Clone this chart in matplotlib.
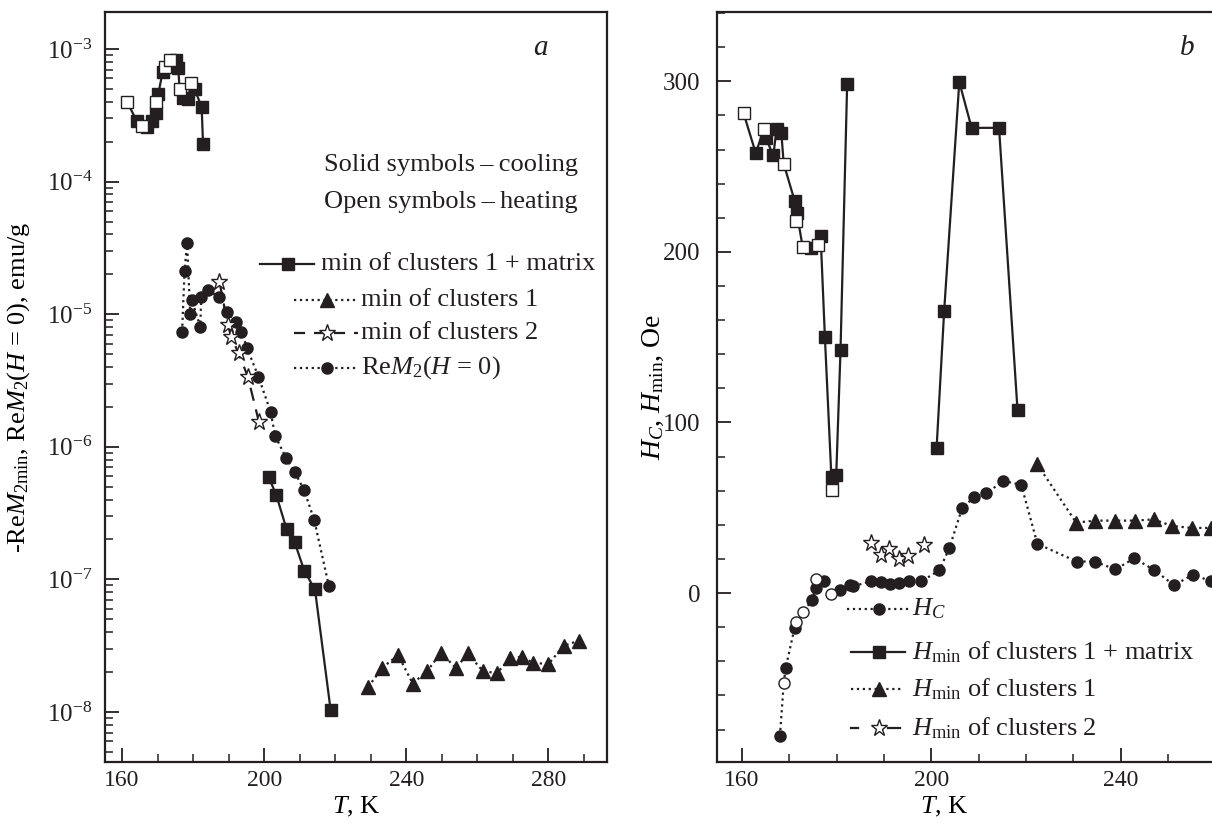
import matplotlib
matplotlib.use("Agg")
import matplotlib.pyplot as plt
from matplotlib.ticker import MultipleLocator, LogLocator, LogFormatterMathtext, NullFormatter
import numpy as np

plt.rcParams['font.family'] = ['Liberation Serif', 'DejaVu Serif']
plt.rcParams['mathtext.fontset'] = 'custom'
plt.rcParams['mathtext.rm'] = 'Liberation Serif'
plt.rcParams['mathtext.it'] = 'Liberation Serif:italic'
plt.rcParams['mathtext.bf'] = 'Liberation Serif:bold'

K = '#231f20'

# ---------------- Panel a data ----------------
# min of clusters 1 + matrix (upper group): cooling (solid) and heating (open)
a_sq_cool_T = [164.1, 167.1, 168.3, 169.6, 170.2, 171.4, 175.2, 175.8, 177.1, 178.5, 180.4, 182.4, 182.8]
a_sq_cool_M = [2.88e-4, 2.6e-4, 2.88e-4, 3.27e-4, 4.58e-4, 6.67e-4, 8.2e-4, 7.2e-4, 4.25e-4, 4.18e-4, 4.97e-4, 3.67e-4, 1.92e-4]
a_sq_heat_T = [161.4, 165.5, 169.6, 172.0, 173.4, 176.2, 179.5]
a_sq_heat_M = [4.0e-4, 2.62e-4, 4.0e-4, 7.36e-4, 8.2e-4, 5.0e-4, 5.5e-4]
# min of clusters 1 + matrix (lower group)
a_sq2_T = [201.3, 203.4, 206.3, 208.6, 211.3, 214.3, 218.7]
a_sq2_M = [5.89e-7, 4.33e-7, 2.4e-7, 1.9e-7, 1.16e-7, 8.4e-8, 1.04e-8]
# min of clusters 1
a_tri_T = [229.3, 233.3, 237.7, 241.8, 245.9, 249.8, 254.0, 257.3, 261.5, 265.5, 269.2, 272.6, 275.6, 280.0, 284.3, 288.5]
a_tri_M = [1.55e-8, 2.16e-8, 2.69e-8, 1.64e-8, 2.04e-8, 2.8e-8, 2.14e-8, 2.77e-8, 2.04e-8, 1.96e-8, 2.54e-8, 2.61e-8, 2.35e-8, 2.30e-8, 3.15e-8, 3.45e-8]
# min of clusters 2
a_star_T = [187.4, 189.8, 190.7, 192.8, 195.4, 198.5]
a_star_M = [1.76e-5, 8.3e-6, 6.77e-6, 5.07e-6, 3.38e-6, 1.55e-6]
# ReM2(H=0)
a_circ_T = [176.9, 177.6, 178.3, 179.2, 179.7, 182.0, 182.3, 184.1, 187.4, 189.5, 192.0, 193.6, 195.2,
            198.4, 201.8, 203.1, 206.1, 208.6, 211.2, 214.1, 218.2]
a_circ_M = [7.38e-6, 2.13e-5, 3.46e-5, 1.0e-5, 1.27e-5, 8.05e-6, 1.35e-5, 1.52e-5, 1.34e-5, 1.03e-5, 8.77e-6,
            7.38e-6, 5.53e-6, 3.38e-6, 1.84e-6, 1.21e-6, 8.3e-7, 6.42e-7, 4.75e-7, 2.8e-7, 8.97e-8]

# ---------------- Panel b data ----------------
b_sq_cool_T = [162.9, 165.0, 166.6, 167.3, 168.3, 171.1, 171.6, 174.5, 176.6, 177.5, 179.1, 179.9, 180.8, 182.2]
b_sq_cool_H = [257.8, 266.9, 256.5, 272.2, 269.6, 230.0, 222.5, 202.2, 209.4, 150.0, 68.0, 69.5, 142.2, 298.2]
b_sq_heat_T = [160.3, 164.6, 168.8, 171.3, 172.8, 176.0, 179.0]
b_sq_heat_H = [281.4, 272.2, 251.6, 218.2, 202.9, 203.9, 60.3]
b_sq2_T = [201.1, 202.7, 205.9, 208.5, 214.3, 218.2]
b_sq2_H = [84.9, 165.3, 299.6, 272.7, 272.7, 107.5]
b_tri_T = [222.4, 230.6, 234.6, 238.9, 243.0, 247.0, 250.9, 255.0, 259.1]
b_tri_H = [75.4, 41.3, 42.5, 42.5, 42.5, 43.2, 39.3, 38.2, 38.2]
b_star_T = [187.2, 189.3, 191.1, 193.2, 195.1, 198.4]
b_star_H = [29.3, 22.5, 25.9, 19.9, 21.9, 27.9]
b_hc_cool_T = [168.0, 169.2, 171.1, 174.7, 175.6, 177.3, 180.6, 182.7, 183.5, 187.2, 189.3, 191.3, 193.2,
               195.2, 197.9, 201.7, 203.8, 206.5, 209.0, 211.6, 215.2, 219.0, 222.4, 230.7, 234.5, 238.9,
               242.9, 247.1, 251.3, 255.3, 259.1]
b_hc_cool_H = [-83.7, -43.9, -20.4, -4.3, 2.9, 6.9, 1.6, 4.9, 4.0, 6.9, 6.4, 5.6, 6.0,
               6.9, 6.9, 13.4, 26.5, 49.8, 56.2, 58.4, 65.8, 63.4, 28.9, 18.5, 18.5, 13.9,
               20.4, 13.5, 4.6, 10.9, 6.9]
b_hc_heat_T = [168.8, 171.3, 172.9, 175.7, 178.7]
b_hc_heat_H = [-52.8, -17.1, -11.2, 8.4, -0.4]

fig = plt.figure(figsize=(12.12, 8.24), dpi=100)
W, H = 1212.0, 824.0
axa = fig.add_axes([105 / W, 1 - 762 / H, (607 - 105) / W, 750 / H])
axb = fig.add_axes([717 / W, 1 - 762 / H, (1212 - 717) / W, 750 / H])

lw = 1.6
ms_sq, ms_tri, ms_star, ms_c = 8.5, 9.5, 12.5, 8


def merged(T1, V1, T2, V2):
    T = np.array(list(T1) + list(T2))
    V = np.array(list(V1) + list(V2))
    o = np.argsort(T, kind='stable')
    return T[o], V[o]


# ---- panel a ----
ax = axa
t, v = merged(a_sq_cool_T, a_sq_cool_M, a_sq_heat_T, a_sq_heat_M)
ax.plot(t, v, '-', color=K, lw=lw, zorder=2)
ax.plot(a_sq_cool_T, a_sq_cool_M, 's', color=K, ms=ms_sq, mec=K, zorder=3)
ax.plot(a_sq_heat_T, a_sq_heat_M, 's', mfc='white', mec=K, mew=1.0, ms=ms_sq, zorder=4)
ax.plot(a_sq2_T, a_sq2_M, '-s', color=K, lw=lw, ms=ms_sq, zorder=3)
ax.plot(a_tri_T, a_tri_M, ':^', color=K, lw=lw, ms=ms_tri, zorder=3)
ax.plot(a_circ_T, a_circ_M, ':o', color=K, lw=lw, ms=ms_c, zorder=3)
ax.plot(a_star_T, a_star_M, '--*', color=K, lw=lw, ms=ms_star, mfc='white', mec=K, mew=1.0,
        dashes=(6, 4), zorder=4)

ax.set_yscale('log')
ax.set_xlim(155.2, 296.5)
ax.set_ylim(10 ** -8.377, 10 ** -2.721)
ax.xaxis.set_major_locator(MultipleLocator(40))
ax.xaxis.set_minor_locator(MultipleLocator(10))
ax.yaxis.set_major_locator(LogLocator(base=10, numticks=20))
ax.yaxis.set_minor_locator(LogLocator(base=10, subs=np.arange(2, 10), numticks=20))
ax.yaxis.set_major_formatter(LogFormatterMathtext())
ax.yaxis.set_minor_formatter(NullFormatter())
ax.set_xlabel(r'$T$, K', fontsize=19)
ax.xaxis.set_label_coords(0.5, -0.044)
ax.set_ylabel(r'-Re$M_{2\mathrm{min}}$, Re$M_2$($H$ = 0), emu/g', fontsize=19)
ax.yaxis.set_label_coords(-0.145, 0.5)
fig.text(540 / W, 1 - 48 / H, 'a', fontsize=21, style='italic', ha='center', va='center', color=K)

# ---- panel b ----
ax = axb
t, v = merged(b_sq_cool_T, b_sq_cool_H, b_sq_heat_T, b_sq_heat_H)
ax.plot(t, v, '-', color=K, lw=lw, zorder=2)
ax.plot(b_sq_cool_T, b_sq_cool_H, 's', color=K, ms=ms_sq, zorder=3)
ax.plot(b_sq_heat_T, b_sq_heat_H, 's', mfc='white', mec=K, mew=1.0, ms=ms_sq, zorder=4)
ax.plot(b_sq2_T, b_sq2_H, '-s', color=K, lw=lw, ms=ms_sq, zorder=3)
ax.plot(b_tri_T, b_tri_H, ':^', color=K, lw=lw, ms=ms_tri, zorder=3, clip_on=False)
t, v = merged(b_hc_cool_T, b_hc_cool_H, b_hc_heat_T, b_hc_heat_H)
ax.plot(t, v, ':', color=K, lw=lw, zorder=2)
ax.plot(b_hc_cool_T, b_hc_cool_H, 'o', color=K, ms=ms_c, zorder=3)
ax.plot(b_hc_heat_T, b_hc_heat_H, 'o', mfc='white', mec=K, mew=1.0, ms=ms_c, zorder=4)
ax.plot(b_star_T, b_star_H, '*', ms=ms_star, mfc='white', mec=K, mew=1.0, zorder=4)

ax.set_xlim(154.7, 259.3)
ax.set_ylim(-99.0, 340.6)
ax.xaxis.set_major_locator(MultipleLocator(40))
ax.xaxis.set_minor_locator(MultipleLocator(10))
ax.yaxis.set_major_locator(MultipleLocator(100))
ax.yaxis.set_minor_locator(MultipleLocator(20))
ax.spines['right'].set_visible(False)
ax.set_xlabel(r'$T$, K', fontsize=19)
ax.xaxis.set_label_coords((944 - 717) / 495, -0.044)
ax.set_ylabel(r'$H_C$, $H_{\mathrm{min}}$, Oe', fontsize=20)
ax.yaxis.set_label_coords(-0.103, 0.5)
fig.text(1187 / W, 1 - 48 / H, 'b', fontsize=21, style='italic', ha='center', va='center', color=K)

for ax in (axa, axb):
    for s in ax.spines.values():
        s.set_linewidth(1.6)
        s.set_color(K)
    ax.tick_params(which='both', direction='in', top=False, right=False, colors=K, labelsize=18)
    ax.tick_params(which='major', length=10, width=1.3)
    ax.tick_params(which='minor', length=6, width=1.1)
    ax.tick_params(axis='x', pad=6, labelsize=17)
axa.tick_params(axis='y', pad=9)
axb.tick_params(axis='y', pad=12)


# ---- hand-drawn legends (positions in pixels) ----
def leg_line(x0, x1, y, style, **kw):
    y = H - y
    fig.add_artist(plt.Line2D([x0 / W, x1 / W], [y / H, y / H], transform=fig.transFigure,
                              color=K, lw=lw, linestyle=style, **kw))


def leg_mark(x, y, marker, ms, filled=True):
    y = H - y
    fig.add_artist(plt.Line2D([x / W], [y / H], transform=fig.transFigure, marker=marker, ms=ms,
                              linestyle='none', mfc=K if filled else 'white', mec=K, mew=1.0))


def leg_text(x, y, s, size=19):
    fig.text(x / W, 1 - y / H, s, fontsize=size, ha='left', va='center', color=K)


leg_text(324, 165, 'Solid symbols\u2009\u2013\u2009cooling')
leg_text(324, 202, 'Open symbols\u2009\u2013\u2009heating')
leg_line(260, 314, 264, '-')
leg_mark(287.5, 264, 's', ms_sq)
leg_text(321, 264, 'min of clusters 1 + matrix')
leg_line(294, 358, 300, ':')
leg_mark(327, 300, '^', ms_tri)
leg_text(361, 300, 'min of clusters 1')
leg_line(294, 358, 333, (0, (5, 4)))
leg_mark(327, 333, '*', ms_star, filled=False)
leg_text(361, 333, 'min of clusters 2')
leg_line(294, 358, 368, ':')
leg_mark(327, 368, 'o', ms_c)
leg_text(361, 368, r'Re$M_2$($H$ = 0)')

leg_line(847, 911, 609, ':')
leg_mark(878.5, 609, 'o', ms_c)
leg_text(912, 609, r'$H_C$')
leg_line(851, 905, 652, '-')
leg_mark(878.5, 652, 's', ms_sq)
leg_text(912, 652, r'$H_{\mathrm{min}}$ of clusters 1 + matrix')
leg_line(851, 903, 689, ':')
leg_mark(878.5, 689, '^', ms_tri)
leg_text(912, 689, r'$H_{\mathrm{min}}$ of clusters 1')
leg_line(851, 858, 728, '-')
leg_line(888, 900, 728, '-')
leg_mark(878.5, 728, '*', ms_star, filled=False)
leg_text(912, 728, r'$H_{\mathrm{min}}$ of clusters 2')

fig.savefig('out.png', dpi=100)
